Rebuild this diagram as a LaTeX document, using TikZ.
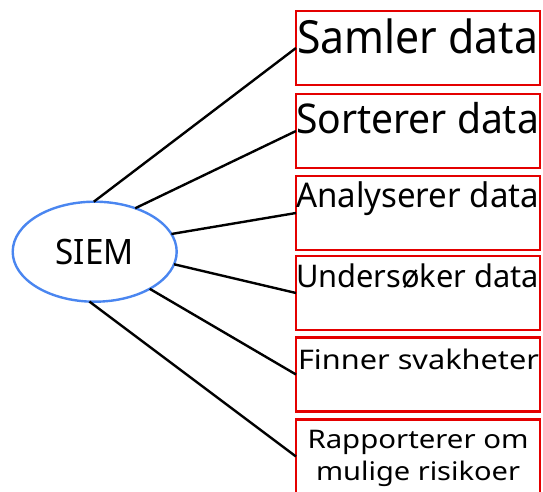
\documentclass[tikz,border=0pt]{standalone}
\usepackage{fontspec}
\setmainfont{Noto Sans}
\usetikzlibrary{shapes.geometric}
\definecolor{siemblue}{RGB}{74,134,240}
\definecolor{boxred}{RGB}{228,0,0}
% a label set at a given size and stretched to a given width
\newcommand{\fitlabel}[3]{\resizebox{#1}{\height}{\fontsize{#2}{#2}\selectfont #3}}
\begin{document}
\begin{tikzpicture}[x=1pt,y=-1pt,
  stepbox/.style={draw=boxred, line width=2.4pt, minimum width=244pt, minimum height=74pt, inner sep=0pt, outer sep=0pt},
  hub/.style={ellipse, draw=siemblue, line width=2.4pt, minimum width=164pt, minimum height=100pt, inner sep=0pt, outer sep=0pt},
  label/.style={anchor=base west, inner sep=0pt, outer sep=0pt},
  link/.style={line width=2.4pt, black}]
\useasboundingbox (0,0) rectangle (543,492);

% central ellipse
\node[hub] (siem) at (94.7,251.7) {\fitlabel{78pt}{35}{SIEM}};

% task boxes
\node[stepbox] (b1) at (418,48) {};
\node[stepbox] (b2) at (418,131) {};
\node[stepbox] (b3) at (418,213) {};
\node[stepbox] (b4) at (418,293) {};
\node[stepbox] (b5) at (418,374.5) {};
\node[stepbox] (b6) at (418,456.5) {};

% box texts
\node[label] (t1) at (297,53.3) {\fitlabel{241pt}{45.7}{Samler data}};
\node[label] (t2) at (296,133.3) {\fitlabel{243pt}{41}{Sorterer data}};
\node[label] (t3) at (296,207.7) {\fitlabel{243pt}{34}{Analyserer data}};
\node[label] (t4) at (296,287.3) {\fitlabel{243pt}{31.2}{Undersøker data}};
\node[label] (t5) at (298,369) {\fitlabel{241pt}{27}{Finner svakheter}};
\node[anchor=base, inner sep=0pt] (t6a) at (418,448.3) {\fitlabel{221pt}{25.6}{Rapporterer om}};
\node[anchor=base, inner sep=0pt] (t6b) at (418,480.5) {\fitlabel{204pt}{25.6}{mulige risikoer}};

% connectors
\draw[link] (siem.91) -- (b1.west);
\draw[link] (siem.47) -- (b2.west);
\draw[link] (siem.13) -- (b3.west);
\draw[link] (siem.-9) -- (b4.west);
\draw[link] (siem.-34) -- (b5.west);
\draw[link] (siem.-96) -- (b6.west);
\end{tikzpicture}
\end{document}
